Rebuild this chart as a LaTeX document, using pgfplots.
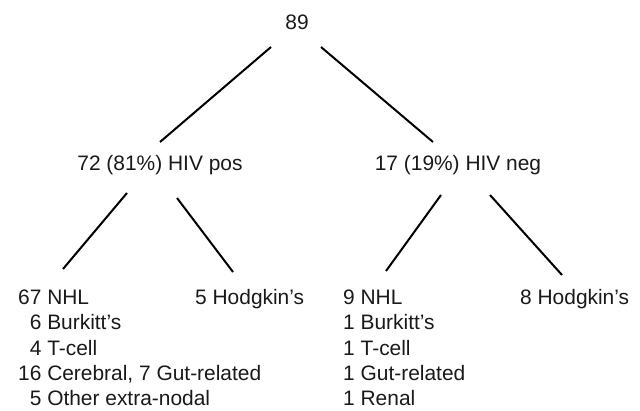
\documentclass[border=0pt]{standalone}
\usepackage{fontspec}
\setmainfont{Liberation Sans}
\usepackage{pgfplots}
\pgfplotsset{compat=1.18}
\begin{document}
\begin{tikzpicture}[lbl/.style={inner sep=0pt, font=\fontsize{21}{25}\selectfont, text=black!90}]
\begin{axis}[
  width=640bp, height=410bp, scale only axis,
  xmin=0, xmax=640, ymin=0, ymax=410,
  hide axis, clip=false,
]
\addplot[draw=none, forget plot] coordinates {(0,0) (640,410)};
% tree branches (pixel x, 410 - pixel y)
\addplot[black, line width=2bp] coordinates {(271,363) (160,268)};
\addplot[black, line width=2bp] coordinates {(321,363) (433,268)};
\addplot[black, line width=2bp] coordinates {(127,217) (63,141)};
\addplot[black, line width=2bp] coordinates {(177,212) (233,138)};
\addplot[black, line width=2bp] coordinates {(441,215) (386,139)};
\addplot[black, line width=2bp] coordinates {(490,215) (562,135)};
% labels
\node[lbl, anchor=base] at (axis cs:297,380.5) {89};
\node[lbl, anchor=base] at (axis cs:160,239.5) {72 (81\%) HIV pos};
\node[lbl, anchor=base] at (axis cs:458,239.5) {17 (19\%) HIV neg};
\node[lbl, anchor=base west] at (axis cs:18,105.5) {67 NHL};
\node[lbl, anchor=base west] at (axis cs:18,80.5) {\hphantom{0}6 Burkitt’s};
\node[lbl, anchor=base west] at (axis cs:18,55) {\hphantom{0}4 T-cell};
\node[lbl, anchor=base west] at (axis cs:18,29.5) {16 Cerebral, 7 Gut-related};
\node[lbl, anchor=base west] at (axis cs:18,4.5) {\hphantom{0}5 Other extra-nodal};
\node[lbl, anchor=base west] at (axis cs:195,105.5) {5 Hodgkin’s};
\node[lbl, anchor=base west] at (axis cs:343,105.5) {9 NHL};
\node[lbl, anchor=base west] at (axis cs:343,80.5) {1 Burkitt’s};
\node[lbl, anchor=base west] at (axis cs:343,55) {1 T-cell};
\node[lbl, anchor=base west] at (axis cs:343,29.5) {1 Gut-related};
\node[lbl, anchor=base west] at (axis cs:343,4.5) {1 Renal};
\node[lbl, anchor=base west] at (axis cs:520,105.5) {8 Hodgkin’s};
\end{axis}
\end{tikzpicture}
\end{document}
